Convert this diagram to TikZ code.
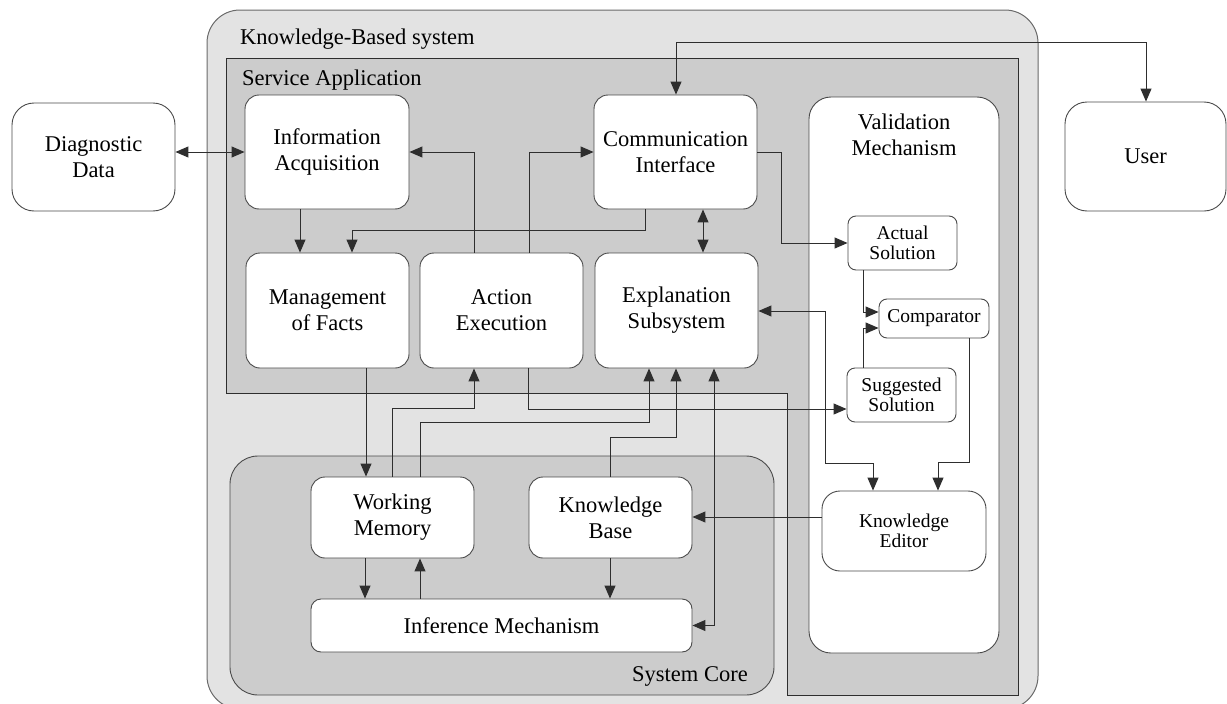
\documentclass[tikz,border=0pt]{standalone}
\usepackage{fontspec}
\setmainfont{Liberation Serif}
\usetikzlibrary{arrows.meta}

\definecolor{outerfill}{HTML}{E3E3E3}
\definecolor{midfill}{HTML}{CCCCCC}
\definecolor{outerline}{HTML}{6A6A6A}
\definecolor{boxline}{HTML}{4A4A4A}
\definecolor{conn}{HTML}{2E2E2E}

\newcommand\mainfs{\fontsize{22.5}{26}\selectfont}
\newcommand\smallfs{\fontsize{19.5}{20}\selectfont}

\tikzset{
  box/.style={draw=boxline, fill=white, line width=0.9pt, rounded corners=14pt,
              align=center, inner sep=0pt, font=\mainfs},
  bigbox/.style={box, rounded corners=22pt},
  smallbox/.style={box, rounded corners=8pt, font=\smallfs},
  arr/.style={draw=conn, line width=1pt, -{Triangle[length=13pt,width=11pt]}},
  arrboth/.style={draw=conn, line width=1pt,
              {Triangle[length=13pt,width=11pt]}-{Triangle[length=13pt,width=11pt]}},
  caption/.style={inner sep=0pt, font=\mainfs},
}

\begin{document}
\begin{tikzpicture}[x=1pt,y=-1pt]
\useasboundingbox (0,0) rectangle (1227,704);
\clip (0,0) rectangle (1227,704);

% containers
\draw[draw=outerline, fill=outerfill, line width=1pt, rounded corners=33pt]
  (207,10) rectangle (1038,709);
\node[caption, anchor=base west] (kbs) at (240,44) {Knowledge-Based system};

\draw[draw=conn, fill=midfill, line width=1pt]
  (226,58) -- (1018,58) -- (1018,695) -- (787,695) -- (787,393) -- (226,393) -- cycle;
\node[caption, anchor=base west] (sapp) at (242,85) {Service Application};

\draw[draw=boxline, fill=white, line width=0.9pt, rounded corners=22pt]
  (809,97) rectangle (999,653);
\node[caption, align=center] (valt) at (904,134.5) {Validation\\Mechanism};

\draw[draw=boxline, fill=midfill, line width=0.9pt, rounded corners=28pt]
  (230,456) rectangle (774,695);
\node[caption, anchor=base east] (sct) at (748,681) {System Core};

% outside boxes
\node[bigbox, minimum width=163, minimum height=108] (dd) at (93.5,157) {Diagnostic\\Data};
\node[bigbox, minimum width=161, minimum height=109] (us) at (1145.5,156.5) {User};

% service application boxes
\node[box, minimum width=164, minimum height=114] (ia) at (327,152) {Information\\Acquisition};
\node[box, minimum width=163, minimum height=114] (ci) at (675.5,152) {Communication\\Interface};
\node[box, minimum width=163, minimum height=115] (mf) at (327.5,310.5) {Management\\of Facts};
\node[box, minimum width=163, minimum height=115] (ae) at (501.5,310.5) {Action\\Execution};
\node[box, minimum width=163, minimum height=115] (es) at (676.5,310.5) {Explanation\\Subsystem};

% validation boxes
\node[smallbox, minimum width=109, minimum height=54] (as) at (902.5,243) {Actual\\Solution};
\node[smallbox, minimum width=110, minimum height=39] (cmp) at (934,318.5) {Comparator};
\node[smallbox, minimum width=109, minimum height=54] (ss) at (901.5,395) {Suggested\\Solution};
\node[box, font=\smallfs, minimum width=164, minimum height=80, rounded corners=18pt] (ke) at (904,531) {Knowledge\\Editor};

% system core boxes
\node[box, minimum width=163, minimum height=81] (wm) at (392.5,517.5) {Working\\Memory};
\node[box, minimum width=163, minimum height=81] (kb) at (610.5,517.5) {Knowledge\\Base};
\node[box, rounded corners=10pt, minimum width=381, minimum height=53] (im) at (501.5,625.5) {Inference Mechanism};

% connectors
\draw[arrboth] (dd.east |- ia.west) -- (ia.west);
\draw[arr] (ia.south -| 300,0) -- (mf.north -| 300,0);
\draw[arr] (ci.south -| 645,0) -- (645,230) -- (352,230) -- (mf.north -| 352,0);
\draw[arr] (ae.north -| 474,0) |- (ia.east);
\draw[arr] (ae.north -| 529,0) |- (ci.west);
\draw[arrboth] (ci.south -| 703,0) -- (es.north -| 703,0);
\draw[arr] (ci.east) -- (781,152) |- (as.west);
\draw[arr] (as.south -| 863,0) |- (cmp.west |- 0,312);
\draw[arr] (ss.north -| 863,0) |- (cmp.west |- 0,328);
\draw[arr] (cmp.south -| 969,0) -- (969,462) -| (ke.north -| 938,0);
\draw[arrboth] (es.east |- 0,311) -- (825,311) -- (825,463) -| (ke.north -| 873,0);
\draw[arr] (ke.west |- 0,517) -- (kb.east |- 0,517);
\draw[arr] (ae.south -| 528,0) |- (ss.west |- 0,409);
\draw[arr] (mf.south -| 366,0) -- (wm.north -| 366,0);
\draw[arr] (wm.north -| 392,0) -- (392,408) -| (ae.south -| 474,0);
\draw[arr] (wm.north -| 420,0) -- (420,422) -| (es.south -| 649,0);
\draw[arr] (kb.north -| 610,0) -- (610,437) -| (es.south -| 676,0);
\draw[arrboth] (es.south -| 714,0) |- (im.east);
\draw[arr] (wm.south -| 365,0) -- (im.north -| 365,0);
\draw[arr] (im.north -| 420,0) -- (wm.south -| 420,0);
\draw[arr] (kb.south -| 610,0) -- (im.north -| 610,0);
\draw[arrboth] (ci.north -| 676,0) -- (676,42) -| (us.north -| 1146,0);
\end{tikzpicture}
\end{document}
